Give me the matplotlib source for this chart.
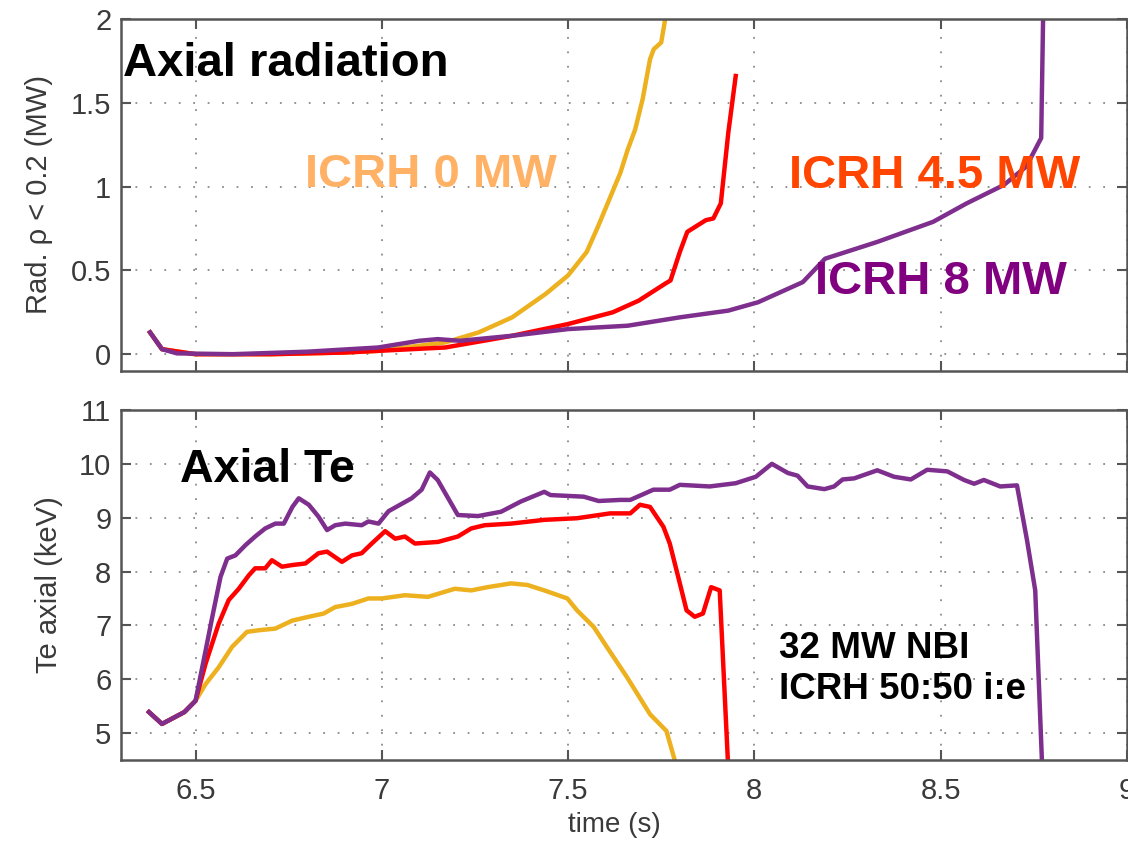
import matplotlib.pyplot as plt

plt.rcParams['font.family'] = ['Liberation Sans', 'DejaVu Sans']

# colours of the three ICRH cases
c0 = '#EDB120'
c45 = '#FF0000'
c8 = '#7E2F8E'

# top panel: axial radiation (MW)
rad0_t = [6.378, 6.41, 6.5, 6.7, 6.9, 6.99, 7.17, 7.26, 7.35, 7.44, 7.50, 7.55, 7.58,
          7.61, 7.64, 7.66, 7.68, 7.70, 7.72, 7.73, 7.75, 7.76, 7.77]
rad0_v = [0.13, 0.03, 0.0, 0.0, 0.01, 0.02, 0.07, 0.13, 0.22, 0.36, 0.47, 0.61, 0.76,
          0.92, 1.08, 1.22, 1.34, 1.52, 1.76, 1.82, 1.86, 1.99, 2.2]

rad45_t = [6.378, 6.41, 6.5, 6.7, 6.9, 6.99, 7.17, 7.35, 7.50, 7.62, 7.69, 7.76, 7.775,
           7.80, 7.82, 7.87, 7.89, 7.91, 7.93, 7.95]
rad45_v = [0.13, 0.03, 0.0, 0.0, 0.01, 0.02, 0.04, 0.11, 0.18, 0.25, 0.32, 0.42, 0.44,
           0.61, 0.73, 0.80, 0.81, 0.90, 1.32, 1.66]

rad8_t = [6.378, 6.41, 6.45, 6.6, 6.8, 6.99, 7.10, 7.15, 7.21, 7.35, 7.50, 7.66, 7.80,
          7.93, 8.01, 8.07, 8.13, 8.19, 8.33, 8.48, 8.57, 8.67, 8.73, 8.77, 8.775, 8.78]
rad8_v = [0.13, 0.03, 0.005, 0.0, 0.015, 0.04, 0.08, 0.09, 0.08, 0.11, 0.15, 0.17, 0.22,
          0.26, 0.31, 0.37, 0.43, 0.57, 0.67, 0.79, 0.90, 1.01, 1.12, 1.29, 1.99, 2.2]

# bottom panel: axial Te (keV)
te0_t = [6.375, 6.41, 6.44, 6.47, 6.50, 6.527, 6.562, 6.598, 6.638, 6.67, 6.714, 6.76,
         6.804, 6.844, 6.875, 6.92, 6.964, 7.0, 7.062, 7.124, 7.196, 7.24, 7.284, 7.347,
         7.391, 7.436, 7.498, 7.524, 7.569, 7.604, 7.658, 7.72, 7.764, 7.787, 7.80]
te0_v = [5.39, 5.17, 5.28, 5.39, 5.60, 5.91, 6.22, 6.60, 6.88, 6.91, 6.94, 7.09,
         7.16, 7.22, 7.34, 7.40, 7.50, 7.50, 7.56, 7.53, 7.68, 7.65, 7.71, 7.78,
         7.75, 7.65, 7.50, 7.28, 6.97, 6.60, 6.04, 5.35, 5.04, 4.48, 4.2]

te45_t = [6.375, 6.41, 6.44, 6.47, 6.50, 6.527, 6.562, 6.589, 6.616, 6.643, 6.66, 6.687,
          6.705, 6.732, 6.759, 6.795, 6.83, 6.853, 6.893, 6.92, 6.946, 6.973, 7.009, 7.036,
          7.062, 7.089, 7.151, 7.204, 7.24, 7.276, 7.347, 7.436, 7.524, 7.613, 7.667,
          7.693, 7.72, 7.756, 7.773, 7.80, 7.818, 7.84, 7.862, 7.884, 7.907, 7.929, 7.935]
te45_v = [5.39, 5.17, 5.28, 5.39, 5.60, 6.29, 7.03, 7.47, 7.68, 7.93, 8.06, 8.06,
          8.21, 8.09, 8.12, 8.15, 8.34, 8.37, 8.18, 8.30, 8.34, 8.52, 8.75, 8.61,
          8.65, 8.52, 8.55, 8.65, 8.80, 8.86, 8.89, 8.96, 8.99, 9.08, 9.08,
          9.24, 9.20, 8.83, 8.52, 7.78, 7.28, 7.16, 7.22, 7.71, 7.65, 4.48, 4.2]

te8_t = [6.375, 6.41, 6.44, 6.47, 6.50, 6.527, 6.545, 6.567, 6.585, 6.607, 6.634, 6.66,
         6.687, 6.714, 6.737, 6.76, 6.777, 6.804, 6.83, 6.853, 6.875, 6.902, 6.946, 6.964,
         6.991, 7.018, 7.08, 7.107, 7.129, 7.15, 7.204, 7.258, 7.32, 7.373, 7.436, 7.453,
         7.542, 7.582, 7.64, 7.667, 7.729, 7.773, 7.80, 7.88, 7.95, 8.004, 8.047, 8.09,
         8.116, 8.143, 8.188, 8.214, 8.237, 8.268, 8.33, 8.375, 8.42, 8.464, 8.518, 8.563,
         8.59, 8.616, 8.66, 8.705, 8.732, 8.754, 8.772, 8.775]
te8_v = [5.39, 5.17, 5.28, 5.39, 5.60, 6.53, 7.16, 7.90, 8.24, 8.30, 8.49, 8.65,
         8.80, 8.89, 8.89, 9.20, 9.36, 9.24, 9.02, 8.77, 8.86, 8.89, 8.86, 8.93,
         8.89, 9.12, 9.36, 9.52, 9.84, 9.70, 9.05, 9.03, 9.11, 9.30, 9.48, 9.42,
         9.39, 9.31, 9.33, 9.33, 9.52, 9.52, 9.61, 9.58, 9.64, 9.76, 10.0, 9.83,
         9.78, 9.58, 9.53, 9.58, 9.71, 9.73, 9.88, 9.76, 9.71, 9.89, 9.86, 9.70,
         9.63, 9.70, 9.58, 9.60, 8.58, 7.65, 4.48, 4.2]

xticks = [6.5, 7, 7.5, 8, 8.5, 9]
xtick_labels = ['6.5', '7', '7.5', '8', '8.5', '9']
rad_ticks = [0, 0.5, 1, 1.5, 2]
rad_labels = ['0', '0.5', '1', '1.5', '2']
te_ticks = [5, 6, 7, 8, 9, 10, 11]

fig = plt.figure(figsize=(11.28, 8.41), dpi=100)
ax1 = fig.add_axes([0.1073, 0.5589, 0.8917, 0.4185])
ax2 = fig.add_axes([0.1073, 0.0963, 0.8917, 0.4162])

gray = '#555555'
for ax in (ax1, ax2):
    ax.set_xlim(6.3, 9.0)
    ax.set_xticks(xticks)
    ax.grid(True, color='#8a8a8a', linestyle=(0, (1, 7)), linewidth=1.3)
    ax.tick_params(direction='in', length=7, width=1.5, color=gray, top=True, right=True,
                   labelsize=21, labelcolor='#3a3a3a', pad=7)
    ax.tick_params(axis='x', pad=12)
    for s in ax.spines.values():
        s.set_color(gray)
        s.set_linewidth(1.8)

lw = 3.2
ax1.plot(rad0_t, rad0_v, color=c0, lw=lw)
ax1.plot(rad45_t, rad45_v, color=c45, lw=lw)
ax1.plot(rad8_t, rad8_v, color=c8, lw=lw)
ax1.set_ylim(-0.1, 2)
ax1.set_yticks(rad_ticks)
ax1.set_yticklabels(rad_labels)
ax1.set_xticklabels([])
ax1.set_ylabel('Rad. ρ < 0.2 (MW)', fontsize=21, color='#3a3a3a')
ax1.yaxis.set_label_coords(-0.068, 0.5)

ax2.plot(te0_t, te0_v, color=c0, lw=lw)
ax2.plot(te45_t, te45_v, color=c45, lw=lw)
ax2.plot(te8_t, te8_v, color=c8, lw=lw)
ax2.set_ylim(4.5, 11)
ax2.set_yticks(te_ticks)
ax2.set_xticklabels(xtick_labels)
ax2.set_ylabel('Te axial (keV)', fontsize=21, color='#3a3a3a')
ax2.yaxis.set_label_coords(-0.058, 0.5)
ax2.set_xlabel('time (s)', fontsize=20, color='#3a3a3a')
ax2.xaxis.set_label_coords(0.49, -0.148)

# annotations
ax1.text(6.305, 1.66, 'Axial radiation', fontsize=34, fontweight='bold', color='black')
ax1.text(6.793, 1.0, 'ICRH 0 MW', fontsize=34, fontweight='bold', color='#FFB266')
ax1.text(8.092, 0.99, 'ICRH 4.5 MW', fontsize=34, fontweight='bold', color='#FF4500')
ax1.text(8.164, 0.357, 'ICRH 8 MW', fontsize=34, fontweight='bold', color='#800080')

ax2.text(6.458, 9.67, 'Axial Te', fontsize=33.5, fontweight='bold', color='black')
ax2.text(8.065, 6.40, '32 MW NBI', fontsize=26.5, fontweight='bold', color='black')
ax2.text(8.065, 5.64, 'ICRH 50:50 i:e', fontsize=26.5, fontweight='bold', color='black')

plt.savefig('out.png', dpi=100)
